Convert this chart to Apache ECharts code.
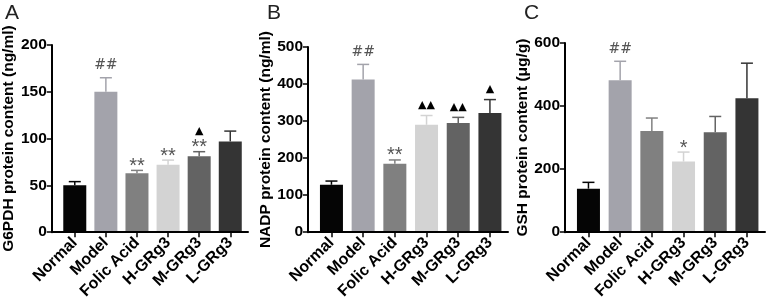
<!DOCTYPE html>
<html>
<head>
<meta charset="utf-8">
<script src="https://cdn.jsdelivr.net/npm/echarts@6/dist/echarts.min.js"></script>
<style>
html, body { margin: 0; padding: 0; background: #fff; }
#chart { width: 777px; height: 302px; }
</style>
</head>
<body>
<div id="chart"></div>
<script>
var groups = ['Normal', 'Model', 'Folic Acid', 'H-GRg3', 'M-GRg3', 'L-GRg3'];
var barColors = ['#050505', '#a3a3ab', '#808080', '#d3d3d3', '#636363', '#343434'];

var g6pdMean = [50, 150, 63, 72, 81, 97];
var g6pdTop = [54, 165, 66, 77, 86, 108];
var g6pdMarks = ['', '##', '**', '**', '▲\n**', ''];

var nadpMean = [128, 412, 185, 290, 295, 322];
var nadpTop = [138, 453, 195, 315, 310, 358];
var nadpMarks = ['', '##', '**', '▲▲', '▲▲', '▲'];

var gshMean = [138, 482, 321, 224, 317, 425];
var gshTop = [158, 542, 362, 254, 367, 536];
var gshMarks = ['', '##', '', '*', '', ''];

var panels = [
  { letter: 'A', name: 'G6PDH protein content (ng/ml)', mean: g6pdMean, top: g6pdTop, marks: g6pdMarks, max: 200, step: 50, left: 48, top0: 45, bottom: 238 },
  { letter: 'B', name: 'NADP protein content (ng/ml)', mean: nadpMean, top: nadpTop, marks: nadpMarks, max: 500, step: 100, left: 308, top0: 47, bottom: 238 },
  { letter: 'C', name: 'GSH protein content (μg/g)', mean: gshMean, top: gshTop, marks: gshMarks, max: 600, step: 200, left: 565, top0: 43, bottom: 235 }
];

var chart = echarts.init(document.getElementById('chart'));
var titles = [], grids = [], xAxes = [], yAxes = [], series = [];
var idx = [0, 1, 2, 3, 4, 5];
var axisStroke = { color: '#000000', width: 2, opacity: 1, type: 'solid' };
var tickStroke = { color: '#000000', width: 1.5, opacity: 1, type: 'solid' };

panels.forEach(function (p, k) {
  titles.push({
    text: p.letter, left: p.left - 48 + (k === 0 ? 0 : 2), top: -2,
    textStyle: { fontSize: 21, fontWeight: 'normal', color: '#222', fontFamily: 'Liberation Sans' }
  });
  grids.push({ left: p.left, width: 200, top: p.top0, height: p.bottom - p.top0 });
  xAxes.push({
    gridIndex: k, type: 'value', min: -0.74, max: 5.57, z: 10,
    splitLine: { show: false },
    axisLine: { show: true, onZero: false, lineStyle: axisStroke },
    axisTick: { show: true, length: 5, lineStyle: tickStroke, customValues: idx },
    axisLabel: {
      customValues: idx, rotate: 45, margin: 8,
      fontSize: 16, fontWeight: 'bold', color: '#000', fontFamily: 'Liberation Sans',
      formatter: function (v) { return groups[Math.round(v)]; }
    }
  });
  yAxes.push({
    gridIndex: k, type: 'value', min: 0, max: p.max, interval: p.step, z: 10,
    name: p.name, nameLocation: 'middle', nameGap: 34, nameRotate: 90,
    nameTextStyle: { fontSize: 15.5, fontWeight: 'bold', color: '#000', fontFamily: 'Liberation Sans' },
    splitLine: { show: false },
    axisLine: { show: true, onZero: false, lineStyle: axisStroke },
    axisTick: { show: true, length: 5, lineStyle: tickStroke },
    axisLabel: { fontSize: 15.5, fontWeight: 'bold', color: '#000', fontFamily: 'Liberation Sans', margin: 5 }
  });
  series.push({
    type: 'bar', xAxisIndex: k, yAxisIndex: k, barWidth: 23, z: 3,
    data: p.mean.map(function (v, i) {
      return { value: [i, v], itemStyle: { color: barColors[i] } };
    })
  });
  series.push({
    type: 'custom', xAxisIndex: k, yAxisIndex: k, z: 1,
    data: p.mean.map(function (v, i) { return [i, v, p.top[i]]; }),
    renderItem: function (params, api) {
      var i = api.value(0);
      var base = api.coord([i, api.value(1)]);
      var hi = api.coord([i, api.value(2)]);
      var col = barColors[i];
      var mark = p.marks[i];
      var kids = [
        { type: 'line', shape: { x1: base[0], y1: base[1], x2: hi[0], y2: hi[1] }, style: { stroke: col, lineWidth: 1.5 } },
        { type: 'line', shape: { x1: hi[0] - 6, y1: hi[1], x2: hi[0] + 6, y2: hi[1] }, style: { stroke: col, lineWidth: 1.5 } }
      ];
      if (mark) {
        var lines = mark.split('\n');
        lines.reverse().forEach(function (m, j) {
          var isTri = m.indexOf('▲') >= 0;
          var isHash = m.indexOf('#') >= 0;
          var cy = hi[1] - (isHash ? 12 : 10) - j * 11;
          kids.push({
            type: 'text',
            style: {
              text: m, x: hi[0], y: isTri || isHash ? cy : cy + 6,
              align: 'center', verticalAlign: 'middle',
              fill: isTri ? '#000' : '#555',
              font: isTri ? '11px "DejaVu Sans"' : (isHash ? '14px "DejaVu Serif"' : '20px "Liberation Sans"')
            }
          });
        });
      }
      return { type: 'group', children: kids };
    }
  });
});

chart.setOption({
  animation: false,
  title: titles,
  grid: grids,
  xAxis: xAxes,
  yAxis: yAxes,
  series: series
});
</script>
</body>
</html>
